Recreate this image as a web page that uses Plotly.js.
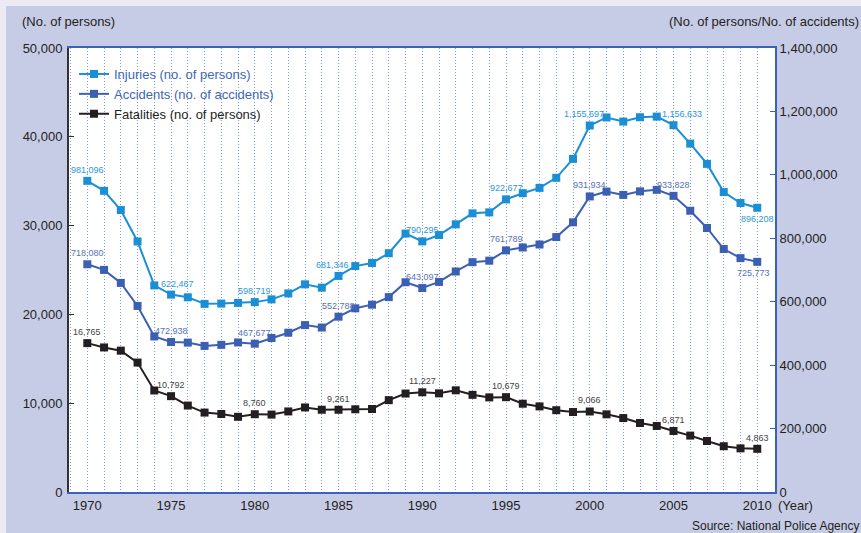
<!DOCTYPE html>
<html>
<head>
<meta charset="utf-8">
<script src="https://cdn.plot.ly/plotly-3.0.1.min.js"></script>
<style>html,body{margin:0;padding:0;background:#eeeaf4;}#chart{width:861px;height:533px;}</style>
</head>
<body>
<div id="chart"></div>
<script>
// ---- data ----
var years = [1970,1971,1972,1973,1974,1975,1976,1977,1978,1979,1980,1981,1982,1983,1984,1985,1986,1987,1988,1989,1990,1991,1992,1993,1994,1995,1996,1997,1998,1999,2000,2001,2002,2003,2004,2005,2006,2007,2008,2009,2010];
var injuries = [981096,949689,889198,789948,651420,622467,613957,593211,594116,596282,598719,607346,626192,654822,644321,681346,712330,722179,752845,814832,790295,810245,844003,878633,881723,922677,942204,958925,990675,1050399,1155697,1181039,1168029,1181681,1183617,1156633,1098564,1034652,945703,911215,896208];
var accidents = [718080,700290,659283,586713,490452,472938,471041,460649,464037,471573,467677,485578,502261,526362,518642,552788,579190,590723,614481,661363,643097,662392,695345,724675,729461,761789,771085,780401,803878,850363,931934,947169,936721,947993,952709,933828,886864,832454,766147,737474,725773];
var fatalities = [16765,16278,15918,14574,11432,10792,9734,8945,8783,8466,8760,8719,9073,9520,9262,9261,9317,9347,10344,11086,11227,11109,11452,10942,10653,10679,9942,9640,9211,9006,9066,8747,8326,7768,7436,6871,6352,5744,5155,4914,4863];
var labelYears = [1970,1975,1980,1985,1990,1995,2000,2005,2010];
var xTickVals = [1970,1975,1980,1985,1990,1995,2000,2005,2010];
var leftTicks = [0,10000,20000,30000,40000,50000];
var rightTicks = [0,200000,400000,600000,800000,1000000,1200000,1400000];
var seriesNames = ['Injuries (no. of persons)','Accidents (no. of accidents)','Fatalities (no. of persons)'];

// ---- styles ----
var C_INJ = '#1a8fd6', C_ACC = '#3b5fb2', C_FAT = '#231f20';
var FONT = 'Arial, "Liberation Sans", Helvetica, sans-serif';
var GRID = '#7f9cda';
var labelStyle = {
  inj: {color:'#2a97da', shift:{1975:6,1985:-6,2000:-6,2005:8}, below:[2010]},
  acc: {color:'#5572b8', shift:{2010:-4}, below:[2010]},
  fat: {color:'#444444', shift:{}, below:[]}
};

function fmt(v){ return v.toString().replace(/\B(?=(\d{3})+(?!\d))/g, ','); }

var traces = [
  {x:years, y:injuries, name:'<span style="color:#3d66b8">'+seriesNames[0]+'</span>', yaxis:'y2', type:'scatter', mode:'lines+markers',
   line:{color:C_INJ, width:2}, marker:{symbol:'square', size:8, color:C_INJ}},
  {x:years, y:accidents, name:'<span style="color:#3d66b8">'+seriesNames[1]+'</span>', yaxis:'y2', type:'scatter', mode:'lines+markers',
   line:{color:C_ACC, width:2}, marker:{symbol:'square', size:8, color:C_ACC}},
  {x:years, y:fatalities, name:seriesNames[2], yaxis:'y', type:'scatter', mode:'lines+markers',
   line:{color:C_FAT, width:2}, marker:{symbol:'square', size:8, color:C_FAT}}
];

var annotations = [];
function addLabels(vals, yref, st){
  labelYears.forEach(function(yr){
    var i = years.indexOf(yr);
    var below = st.below.indexOf(yr) >= 0;
    annotations.push({x:yr, y:vals[i], xref:'x', yref:yref, text:fmt(vals[i]), showarrow:false,
      xanchor:'center', yanchor:'middle', xshift:(st.shift[yr]||0), yshift: below ? -11 : 11,
      font:{family:FONT, size:9, color:st.color}});
  });
}
addLabels(injuries, 'y2', labelStyle.inj);
addLabels(accidents, 'y2', labelStyle.acc);
addLabels(fatalities, 'y', labelStyle.fat);

var W = 706, H = 444, L = 69, T = 48;
function px(xp){ return (xp - L)/W; }
function py(yp){ return (T + H - yp)/H; }
annotations.push({xref:'paper', yref:'paper', x:px(20), y:py(22), xanchor:'left', yanchor:'middle', showarrow:false,
  text:'(No. of persons)', font:{family:FONT, size:13, color:'#231f20'}});
annotations.push({xref:'paper', yref:'paper', x:px(861), y:py(22), xanchor:'right', yanchor:'middle', showarrow:false,
  text:'(No. of persons/No. of accidents)', font:{family:FONT, size:13, color:'#231f20'}});
annotations.push({xref:'paper', yref:'paper', x:px(776), y:py(506), xanchor:'left', yanchor:'middle', showarrow:false,
  text:'(Year)', font:{family:FONT, size:13, color:'#231f20'}});
annotations.push({xref:'paper', yref:'paper', x:px(861), y:py(526), xanchor:'right', yanchor:'middle', showarrow:false,
  text:'Source: National Police Agency', font:{family:FONT, size:12, color:'#231f20'}});

var layout = {
  width:861, height:533,
  margin:{l:L, r:861-L-W, t:T, b:533-T-H, pad:0},
  paper_bgcolor:'#c6cbe6', plot_bgcolor:'#ffffff',
  font:{family:FONT, size:13, color:'#231f20'},
  showlegend:true,
  legend:{x:px(74), y:py(59), xanchor:'left', yanchor:'top', bgcolor:'rgba(0,0,0,0)', font:{family:FONT, size:13}, itemwidth:30, tracegroupgap:0},
  xaxis:{range:[1968.907, 2011.06], tickvals:xTickVals, ticktext:xTickVals.map(String), ticks:'', showgrid:true,
    gridcolor:GRID, griddash:'1px,2px', gridwidth:1,
    minor:{dtick:1, tick0:1970, showgrid:true, gridcolor:GRID, griddash:'1px,2px', gridwidth:1},
    showline:true, linecolor:'#3a62b8', linewidth:2, mirror:true, zeroline:false, tickfont:{size:13}},
  yaxis:{range:[0,50000], tickvals:leftTicks, tickformat:',', ticks:'inside', ticklen:5, tickcolor:'#333', tickwidth:1,
    showgrid:false, zeroline:false, showline:true, linecolor:'#333333', linewidth:2, tickfont:{size:13}, ticklabelstandoff:2},
  yaxis2:{range:[0,1400000], tickvals:rightTicks, tickformat:',', overlaying:'y', side:'right', ticks:'inside', ticklen:5,
    tickcolor:'#3a62b8', tickwidth:1, showgrid:false, zeroline:false, showline:true, linecolor:'#3a62b8', linewidth:2, tickfont:{size:13}},
  shapes:[
    {type:'rect', xref:'paper', yref:'paper', x0:px(0), x1:px(861), y0:py(6), y1:py(0), fillcolor:'#eeeaf4', line:{width:0}, layer:'below'},
    {type:'rect', xref:'paper', yref:'paper', x0:px(0), x1:px(6), y0:py(533), y1:py(0), fillcolor:'#eeeaf4', line:{width:0}, layer:'below'}
  ],
  annotations:annotations
};

Plotly.newPlot('chart', traces, layout, {displayModeBar:false, staticPlot:true});
</script>
</body>
</html>
